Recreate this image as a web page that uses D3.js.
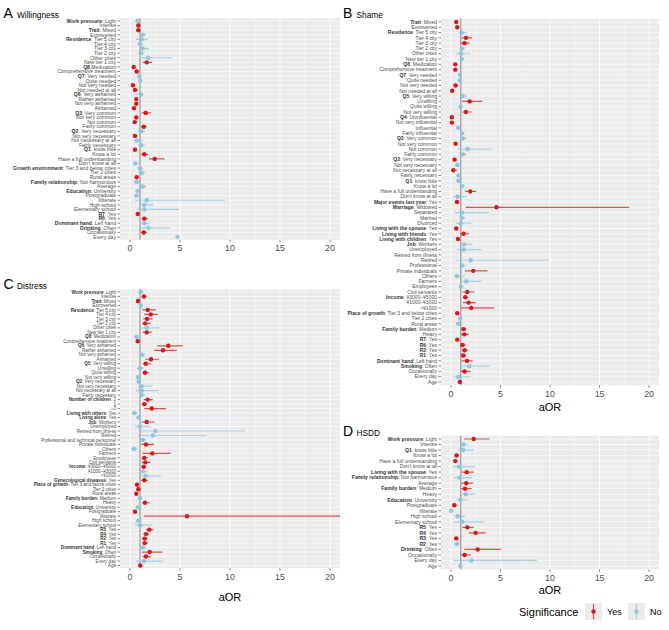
<!DOCTYPE html>
<html>
<head>
<meta charset="utf-8">
<script src="https://cdn.jsdelivr.net/npm/d3@7"></script>
<style>
body { margin: 0; background: #fff; }
svg { font-family: "Liberation Sans", Arial, sans-serif; }
</style>
</head>
<body>
<div id="chart"></div>
<script>
// ---- A: Willingness ----
const willLabels = ["Work pressure: Light","Intense","Trait: Mixed","Extroverted","Residence: Tier 5 city","Tier 4 city","Tier 3 city","Tier 2 city","Other cities","New tier 1 city","Q8:Medication","Comprehensive treatment","Q7: Very needed","Quite needed","Not very needed","Not needed at all","Q6: Very ashamed","Rather ashamed","Not very ashamed","Ashamed","Q3: Very common","Not very common","Not common","Fairly common","Q2: Very necessary","Not very necessary","Not necessary at all","Fairly necessary","Q1: know little","Know a lot","Have a full understanding","Don't know at all","Growth environment: Tier 3 and below cities","Tier 2 cities","Rural areas","Family relationship: Not harmonious","Average","Education: University","Postgraduate","Illiterate","High school","Elementary school","R7: Yes","R6: Yes","Dominant hand: Left hand","Drinking: Often","Occasionally","Every day"];
const willAOR = [0.77,0.83,0.83,1.27,1.17,1.0,1.27,1.1,1.83,1.67, 0.37,0.67,0.93,1.03,0.3,0.5,1.1,0.63,0.63,0.4, 1.57,0.63,0.47,1.37,1.13,0.5,0.67,1.13,0.5,1.43, 2.47,0.53,1.0,1.17,0.67,0.67,1.27,0.8,0.67,1.67, 1.43,1.43,0.77,1.43,1.43,1.83,1.37,4.75];
const willLo = [0.5,0.7,0.7,1.0,0.6,0.7,0.93,0.83,0.93,1.27, 0.23,0.5,0.73,0.8,0.17,0.3,0.5,0.47,0.43,0.27, 1.17,0.43,0.27,1.07,0.8,0.3,0.33,0.83,0.37,1.1, 1.9,0.27,0.73,0.87,0.47,0.37,1.0,0.5,0.4,0.5, 0.87,0.67,0.6,1.17,1.0,1.0,1.07,4.65];
const willHi = [1.07,0.97,0.97,1.6,1.83,1.33,1.87,1.4,4.2,2.2, 0.53,0.83,1.13,1.27,0.47,0.8,1.43,0.8,0.8,0.53, 2.1,0.83,0.73,1.67,1.5,0.73,1.33,1.5,0.63,1.8, 3.47,0.93,1.27,1.57,0.87,1.03,1.6,1.13,1.0,9.5, 2.4,4.9,0.93,1.77,2.0,4.0,1.7,4.85];
const willSig = [0,1,1,0,0,0,0,0,0,1, 1,1,0,0,1,1,0,1,1,1, 1,1,1,1,0,1,0,0,1,1, 1,0,0,0,1,0,0,0,0,0, 0,0,1,1,0,0,1,0];

// ---- B: Shame ----
const shameLabels = ["Trait: Mixed","Extroverted","Residence: Tier 5 city","Tier 4 city","Tier 3 city","Tier 2 city","Other cities","New tier 1 city","Q8: Medication","Comprehensive treatment","Q7: Very needed","Quite needed","Not very needed","Not needed at all","Q5: Very willing","Unwilling","Quite willing","Not very willing","Q4: Uninfluential","Not very influential","Influential","Fairly influential","Q3: Very common","Not very common","Not common","Fairly common","Q2: Very necessary","Not very necessary","Not necessary at all","Fairly necessary","Q1: know little","Know a lot","Have a full understanding","Don't know at all","Major events last year: Yes","Marriage: Widowed","Separated","Married","Divorced","Living with the spouse: Yes","Living with friends: Yes","Living with children: Yes","Job: Workers","Unemployed","Retired from illness","Retired","Professional","Private individuals","Others","Farmers","Employees","Civil servants","Income: ¥3000–¥5000","¥1000–¥3000","<¥1000","Place of growth: Tier 3 and below cities","Tier 2 cities","Rural areas","Family burden: Medium","Heavy","R7: Yes","R6: Yes","R2: Yes","R1: Yes","Dominant hand: Left hand","Smoking: Often","Occasionally","Every day","Age"];
const shameAOR = [0.54,0.64,1.08,1.52,1.38,1.11,1.04,1.08,0.44,0.44, 0.91,0.91,0.47,0.13,1.21,1.89,0.98,1.52,0.1,0.1, 0.74,1.11,1.18,0.47,1.68,1.21,0.37,0.67,0.24,0.77, 0.77,1.11,1.95,0.67,0.61,4.6,1.14,1.11,1.01,0.54, 1.28,0.71,1.35,1.28,null,1.99,1.11,2.26,0.61,1.55, 1.01,1.65,1.45,1.78,2.05,0.64,0.94,0.74,1.28,1.35, 0.64,1.18,1.38,1.25,1.62,1.85,1.38,0.74,0.91];
const shameLo = [0.47,0.57,0.8,1.08,1.0,0.88,0.54,0.84,0.3,0.3, 0.71,0.71,0.27,0.0,0.94,1.14,0.74,1.11,0.0,0.0, 0.54,0.88,0.88,0.3,0.67,0.88,0.2,0.34,0.0,0.54, 0.54,0.84,1.41,0.2,0.4,1.5,0.4,0.84,0.47,0.34, 0.91,0.51,1.0,0.6,null,0.47,0.84,1.41,0.27,0.94, 0.81,1.14,1.21,1.21,1.0,0.47,0.74,0.51,1.04,1.0, 0.47,0.94,1.11,0.98,1.08,0.94,0.98,0.24,0.84];
const shameHi = [0.71,0.78,1.58,2.15,1.89,1.41,1.92,1.38,0.57,0.57, 1.14,1.14,0.74,0.3,1.62,3.16,1.21,2.09,0.24,0.24, 0.94,1.38,1.55,0.67,4.1,1.55,0.54,1.01,0.67,1.01, 1.08,1.41,2.56,1.68,0.84,18.0,3.8,1.48,2.09,0.74, 1.85,0.91,2.15,3.1,null,9.9,1.48,3.7,1.38,3.1, 1.28,2.39,1.75,2.52,4.34,0.81,1.14,0.98,1.55,1.82, 0.81,1.48,1.75,1.55,2.19,3.94,1.99,2.02,0.98];
const shameSig = [1,1,0,1,1,0,0,0,1,1, 0,0,1,1,0,1,0,1,1,1, 0,0,0,1,0,0,1,0,1,0, 0,0,1,0,1,1,0,0,0,1, 1,1,0,0,0,0,0,1,0,0, 0,1,1,1,1,1,0,0,1,1, 1,1,1,1,1,0,1,0,1];

// ---- C: Distress ----
const distLabels = ["Work pressure: Light","Intense","Trait: Mixed","Extroverted","Residence: Tier 5 city","Tier 4 city","Tier 3 city","Tier 2 city","Other cities","New tier 1 city","Q8: Medication","Comprehensive treatment","Q6: Very ashamed","Rather ashamed","Not very ashamed","Ashamed","Q5: Very willing","Unwilling","Quite willing","Not very willing","Q2: Very necessary","Not very necessary","Not necessary at all","Fairly necessary","Number of children: 2","1","≥3","Living with others: Yes","Living alone: Yes","Job: Workers","Unemployed","Retired from illness","Retired","Professional and technical personnel","Private individuals","Others","Farmers","Employees","Civil servants","Income: ¥3000–¥5000","¥1000–¥3000","<¥1000","Gynecological diseases: Yes","Place of growth: Tier 3 and below cities","Tier 2 cities","Rural areas","Family burden: Medium","Heavy","Education: University","Postgraduate","Illiterate","High school","Elementary school","R5: Yes","R4: Yes","R2: Yes","R1: Yes","Dominant hand: Left hand","Smoking: Often","Occasionally","Every day","Age"];
const distAOR = [1.07,1.4,0.8,1.07,1.77,2.07,1.7,1.53,1.67,1.67, 0.67,0.77,3.83,3.3,1.17,2.1,1.57,1.0,1.5,0.8, 0.87,1.17,1.17,1.17,1.77,1.43,2.17,0.43,0.87,1.67, 1.0,2.53,2.3,1.27,1.6,0.4,2.23,1.43,1.53,1.37, 1.33,1.57,1.43,0.7,0.83,0.63,1.0,1.5,0.8,0.5, 5.7,0.83,1.0,1.93,1.6,1.47,1.47,1.27,1.97,1.6,1.4,1.03];
const distLo = [0.73,1.17,0.67,0.93,1.23,1.43,1.33,1.23,1.0,1.27, 0.4,0.6,2.73,2.4,0.83,1.53,1.27,0.67,1.23,0.6, 0.67,0.8,0.6,0.93,1.37,1.2,1.43,0.17,0.67,1.13, 0.5,0.83,0.77,1.0,1.13,0.1,1.27,1.17,1.17,1.13, 1.0,1.0,1.13,0.53,0.67,0.47,0.8,1.17,0.57,0.33, 1.37,0.6,0.5,1.6,1.33,1.2,1.23,1.0,1.17,1.27,0.6,0.97];
const distHi = [1.4,1.67,0.93,1.23,2.6,2.77,2.27,2.07,2.93,2.17, 0.97,0.93,5.27,4.67,1.57,2.93,2.1,1.4,1.87,1.07, 1.13,2.17,2.87,1.53,2.27,1.73,3.57,0.77,1.13,2.47, 2.0,11.5,7.67,1.67,2.4,0.77,4.07,1.77,2.07,1.63, 1.73,3.07,1.77,0.87,0.97,0.8,1.2,2.0,1.13,0.7, 25,1.17,2.17,2.33,1.9,1.77,1.77,1.6,3.23,2.07,3.33,1.1];
const distSig = [0,1,1,0,1,1,1,1,0,1, 0,1,1,1,0,1,1,0,1,0, 0,0,0,0,1,1,1,0,0,1, 0,0,0,0,1,0,1,1,1,1, 0,0,1,1,1,1,0,1,0,1, 1,0,0,1,1,1,1,0,1,1,0,1];

// ---- D: HSDD ----
const hsddLabels = ["Work pressure: Light","Intense","Q1: know little","Know a lot","Have a full understanding","Don't know at all","Living with the spouse: Yes","Family relationship: Not harmonious","Average","Family burden: Medium","Heavy","Education: University","Postgraduate","Illiterate","High school","Elementary school","R5: Yes","R4: Yes","R3: Yes","R2: Yes","Drinking: Often","Occasionally","Every day","Age"];
const hsddAOR = [2.3,1.28,1.22,0.57,0.44,0.81,1.59,0.88,1.55,1.42,1.49,0.95,0.34,0.02,0.68,1.15,1.66,2.5,0.54,0.61,2.7,1.39,2.06,0.95];
const hsddLo = [1.32,1.0,0.68,0.37,0.24,0.2,1.1,0.3,1.08,1.0,0.9,0.54,0.14,0.0,0.34,0.3,1.15,1.8,0.34,0.37,1.35,1.0,0.27,0.89];
const hsddHi = [3.92,1.75,2.3,0.81,0.68,2.43,2.3,2.1,2.23,2.1,2.5,1.79,0.68,0.04,1.45,3.4,2.3,3.5,0.74,0.88,5.03,2.0,8.68,1.01];
const hsddSig = [1,0,0,1,1,0,1,0,1,1,0,0,1,0,0,0,1,1,1,0,1,1,0,0];

const xTicks = [0, 5, 10, 15, 20];
const xMinor = [2.5, 7.5, 12.5, 17.5];
const sigColor = {1: '#d7191c', 0: '#92c5de'};

const width = 669, height = 630;
const svg = d3.select('#chart').append('svg')
    .attr('width', width)
    .attr('height', height);

function drawPanel(p) {
    const x = d3.scaleLinear().domain([-1, 21]).range([p.left, p.right]);
    const y = d3.scalePoint()
        .domain(d3.range(p.labels.length))
        .range([p.top, p.bottom])
        .padding(0.6);
    const g = svg.append('g');
    const clipId = 'clip-' + p.letter;

    g.append('clipPath').attr('id', clipId)
        .append('rect')
        .attr('x', p.left).attr('y', p.top)
        .attr('width', p.right - p.left).attr('height', p.bottom - p.top);

    g.append('rect')
        .attr('x', p.left).attr('y', p.top)
        .attr('width', p.right - p.left).attr('height', p.bottom - p.top)
        .attr('fill', '#ebebeb');

    g.selectAll('.minor').data(xMinor).enter().append('line')
        .attr('x1', d => x(d)).attr('x2', d => x(d))
        .attr('y1', p.top).attr('y2', p.bottom)
        .attr('stroke', '#fff').attr('stroke-width', 0.4);

    g.selectAll('.major').data(xTicks).enter().append('line')
        .attr('x1', d => x(d)).attr('x2', d => x(d))
        .attr('y1', p.top).attr('y2', p.bottom)
        .attr('stroke', '#fff').attr('stroke-width', 0.8);

    g.selectAll('.row').data(d3.range(p.labels.length)).enter().append('line')
        .attr('x1', p.left).attr('x2', p.right)
        .attr('y1', d => y(d)).attr('y2', d => y(d))
        .attr('stroke', '#fff').attr('stroke-width', 0.6);

    // reference line at aOR = 1
    g.append('line')
        .attr('x1', x(1)).attr('x2', x(1))
        .attr('y1', p.top).attr('y2', p.bottom)
        .attr('stroke', '#7f7f7f').attr('stroke-width', 0.9);

    const rows = p.labels.map((l, i) => ({
        label: l, est: p.est[i], lo: p.lo[i], hi: p.hi[i], sig: p.sig[i], i: i
    })).filter(d => d.est != null);

    const marks = g.append('g').attr('clip-path', `url(#${clipId})`);
    marks.selectAll('.ci').data(rows).enter().append('line')
        .attr('x1', d => x(d.lo)).attr('x2', d => x(d.hi))
        .attr('y1', d => y(d.i)).attr('y2', d => y(d.i))
        .attr('stroke', d => sigColor[d.sig])
        .attr('stroke-opacity', 0.75)
        .attr('stroke-width', 1.2);

    marks.selectAll('.pt').data(rows).enter().append('circle')
        .attr('cx', d => x(d.est)).attr('cy', d => y(d.i))
        .attr('r', 2.2)
        .attr('fill', d => sigColor[d.sig]);

    // y axis: ticks and labels, the variable name in bold
    g.selectAll('.ytick').data(d3.range(p.labels.length)).enter().append('line')
        .attr('x1', p.left - 2.5).attr('x2', p.left)
        .attr('y1', d => y(d)).attr('y2', d => y(d))
        .attr('stroke', '#333').attr('stroke-width', 0.6);

    const lab = g.selectAll('.ylab').data(p.labels).enter().append('text')
        .attr('x', p.left - 4)
        .attr('y', (d, i) => y(i))
        .attr('dy', '0.35em')
        .attr('text-anchor', 'end')
        .attr('font-size', p.fontSize)
        .attr('fill', '#4d4d4d');
    lab.each(function(d) {
        const t = d3.select(this);
        const k = d.indexOf(':');
        if (k > 0) {
            t.append('tspan').attr('font-weight', 'bold').attr('fill', '#333').text(d.slice(0, k));
            t.append('tspan').text(d.slice(k));
        } else {
            t.text(d);
        }
    });

    // x axis
    g.selectAll('.xtick').data(xTicks).enter().append('line')
        .attr('x1', d => x(d)).attr('x2', d => x(d))
        .attr('y1', p.bottom).attr('y2', p.bottom + 2.5)
        .attr('stroke', '#333').attr('stroke-width', 0.6);
    g.selectAll('.xlab').data(xTicks).enter().append('text')
        .attr('x', d => x(d))
        .attr('y', p.bottom + 11.5)
        .attr('text-anchor', 'middle')
        .attr('font-size', 8.8)
        .attr('fill', '#4d4d4d')
        .text(d => d);

    if (p.xTitleY) {
        g.append('text')
            .attr('x', (x(0) + x(20)) / 2)
            .attr('y', p.xTitleY)
            .attr('text-anchor', 'middle')
            .attr('font-size', 11)
            .attr('fill', '#000')
            .text('aOR');
    }

    // panel tag and title
    g.append('text').attr('x', p.tagX).attr('y', p.tagY)
        .attr('font-size', 14).attr('fill', '#000').text(p.letter);
    g.append('text').attr('x', p.tagX + 13.5).attr('y', p.tagY)
        .attr('font-size', 8.3).attr('fill', '#000').text(p.title);
}

drawPanel({letter: 'A', title: 'Willingness', labels: willLabels, est: willAOR, lo: willLo, hi: willHi, sig: willSig,
    left: 120, right: 340, top: 18.2, bottom: 239.8, tagX: 3.5, tagY: 17.5, fontSize: 5.1, xTitleY: null});
drawPanel({letter: 'B', title: 'Shame', labels: shameLabels, est: shameAOR, lo: shameLo, hi: shameHi, sig: shameSig,
    left: 441, right: 659, top: 18.8, bottom: 385.2, tagX: 343, tagY: 17.5, fontSize: 5, xTitleY: 411});
drawPanel({letter: 'C', title: 'Distress', labels: distLabels, est: distAOR, lo: distLo, hi: distHi, sig: distSig,
    left: 120, right: 340, top: 289.3, bottom: 568.2, tagX: 3.5, tagY: 289, fontSize: 4.6, xTitleY: 601});
drawPanel({letter: 'D', title: 'HSDD', labels: hsddLabels, est: hsddAOR, lo: hsddLo, hi: hsddHi, sig: hsddSig,
    left: 441, right: 659, top: 435.7, bottom: 569.3, tagX: 343, tagY: 436, fontSize: 5.1, xTitleY: 594});

// legend
const legendItems = [{label: 'Yes', sig: 1}, {label: 'No', sig: 0}];
const leg = svg.append('g');
leg.append('text').attr('x', 519).attr('y', 616)
    .attr('font-size', 11).attr('fill', '#000').text('Significance');
const keys = leg.selectAll('.key').data(legendItems).enter().append('g')
    .attr('transform', (d, i) => `translate(${585 + i * 43},603)`);
keys.append('rect').attr('width', 17).attr('height', 17).attr('fill', '#ebebeb');
keys.append('line').attr('x1', 8.5).attr('x2', 8.5).attr('y1', 1).attr('y2', 16)
    .attr('stroke', d => sigColor[d.sig]).attr('stroke-width', 1.2).attr('stroke-opacity', 0.75);
keys.append('circle').attr('cx', 8.5).attr('cy', 8.5).attr('r', 2.2)
    .attr('fill', d => sigColor[d.sig]);
keys.append('text').attr('x', 22).attr('y', 12)
    .attr('font-size', 9).attr('fill', '#000').text(d => d.label);
</script>
</body>
</html>
